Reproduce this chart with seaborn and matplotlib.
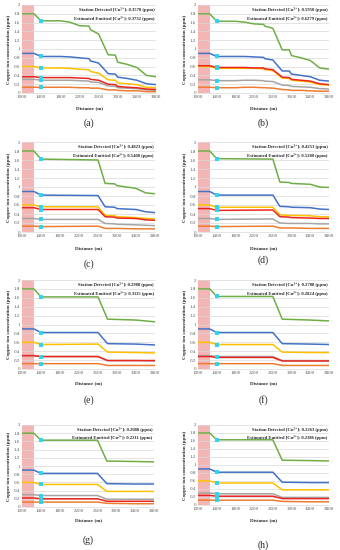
import pandas as pd
import matplotlib
matplotlib.use('Agg')
import matplotlib.pyplot as plt
import seaborn as sns

# series drawn in every panel (bottom of the list ends up on top)
series = ['green', 'blue', 'yellow', 'gray', 'red', 'orange']

# distance grids (m)
dist_ab = [1000, 1250, 1400, 1800, 2000, 2200, 2400, 2430, 2600, 2800, 2950, 3000, 3200, 3400, 3600, 3800]
dist_cd = [1000, 1250, 1400, 2600, 2750, 2950, 3000, 3400, 3600, 3800]
dist_eh = [1000, 1250, 1400, 2600, 2800, 3400, 3800]

# (a)
green_a = [1.8, 1.8, 1.64, 1.64, 1.61, 1.53, 1.52, 1.44, 1.34, 0.87, 0.86, 0.70, 0.65, 0.58, 0.40, 0.37]
blue_a = [0.9, 0.9, 0.83, 0.83, 0.82, 0.80, 0.78, 0.73, 0.68, 0.44, 0.43, 0.36, 0.33, 0.29, 0.21, 0.19]
yellow_a = [0.6, 0.6, 0.57, 0.57, 0.56, 0.54, 0.53, 0.49, 0.45, 0.30, 0.29, 0.23, 0.21, 0.19, 0.13, 0.12]
gray_a = [0.31, 0.31, 0.29, 0.29, 0.29, 0.28, 0.27, 0.25, 0.24, 0.16, 0.15, 0.12, 0.11, 0.10, 0.07, 0.06]
red_a = [0.37, 0.37, 0.35, 0.35, 0.35, 0.34, 0.33, 0.31, 0.29, 0.20, 0.19, 0.15, 0.13, 0.12, 0.09, 0.08]
orange_a = [0.13, 0.13, 0.13, 0.13, 0.13, 0.12, 0.12, 0.11, 0.11, 0.07, 0.07, 0.06, 0.05, 0.05, 0.03, 0.03]

# (b)
green_b = [1.8, 1.8, 1.63, 1.63, 1.61, 1.57, 1.56, 1.52, 1.47, 0.98, 0.98, 0.85, 0.80, 0.74, 0.57, 0.54]
blue_b = [0.9, 0.9, 0.83, 0.83, 0.83, 0.82, 0.81, 0.78, 0.75, 0.50, 0.50, 0.43, 0.40, 0.37, 0.29, 0.27]
yellow_b = [0.6, 0.6, 0.56, 0.56, 0.56, 0.56, 0.55, 0.53, 0.51, 0.34, 0.33, 0.29, 0.27, 0.25, 0.19, 0.18]
gray_b = [0.3, 0.3, 0.28, 0.28, 0.29, 0.29, 0.28, 0.27, 0.26, 0.18, 0.17, 0.15, 0.14, 0.13, 0.10, 0.09]
red_b = [0.62, 0.62, 0.58, 0.58, 0.58, 0.57, 0.57, 0.55, 0.53, 0.36, 0.35, 0.31, 0.29, 0.27, 0.21, 0.19]
orange_b = [0.13, 0.13, 0.12, 0.12, 0.13, 0.13, 0.12, 0.12, 0.11, 0.08, 0.07, 0.06, 0.06, 0.05, 0.04, 0.04]

# (c)
green_c = [1.8, 1.8, 1.62, 1.60, 1.08, 1.07, 1.03, 0.97, 0.87, 0.85]
blue_c = [0.9, 0.9, 0.82, 0.81, 0.56, 0.55, 0.52, 0.50, 0.45, 0.43]
yellow_c = [0.6, 0.6, 0.56, 0.56, 0.37, 0.36, 0.34, 0.32, 0.30, 0.29]
gray_c = [0.3, 0.3, 0.28, 0.28, 0.19, 0.18, 0.17, 0.16, 0.15, 0.14]
red_c = [0.54, 0.54, 0.50, 0.50, 0.34, 0.33, 0.31, 0.30, 0.27, 0.26]
orange_c = [0.13, 0.13, 0.12, 0.13, 0.08, 0.08, 0.08, 0.07, 0.07, 0.07]

# (d)
green_d = [1.8, 1.8, 1.63, 1.62, 1.11, 1.10, 1.08, 1.06, 1.00, 0.99]
blue_d = [0.9, 0.9, 0.82, 0.82, 0.57, 0.56, 0.55, 0.54, 0.51, 0.50]
yellow_d = [0.6, 0.6, 0.55, 0.55, 0.38, 0.37, 0.37, 0.36, 0.34, 0.34]
gray_d = [0.3, 0.3, 0.28, 0.29, 0.20, 0.19, 0.19, 0.19, 0.18, 0.18]
red_d = [0.52, 0.52, 0.48, 0.49, 0.34, 0.33, 0.32, 0.31, 0.30, 0.30]
orange_d = [0.13, 0.13, 0.12, 0.13, 0.09, 0.09, 0.09, 0.08, 0.08, 0.08]

# (e)
green_e = [1.8, 1.8, 1.62, 1.62, 1.12, 1.10, 1.06]
blue_e = [0.9, 0.9, 0.82, 0.82, 0.57, 0.56, 0.54]
yellow_e = [0.6, 0.6, 0.55, 0.56, 0.38, 0.37, 0.36]
gray_e = [0.3, 0.3, 0.28, 0.28, 0.19, 0.19, 0.18]
red_e = [0.3, 0.3, 0.28, 0.28, 0.19, 0.19, 0.19]
orange_e = [0.12, 0.12, 0.12, 0.12, 0.08, 0.08, 0.08]

# (f)
green_f = [1.8, 1.8, 1.63, 1.63, 1.12, 1.10, 1.08]
blue_f = [0.9, 0.9, 0.82, 0.82, 0.57, 0.56, 0.55]
yellow_f = [0.6, 0.6, 0.55, 0.55, 0.38, 0.37, 0.37]
gray_f = [0.3, 0.3, 0.28, 0.28, 0.19, 0.19, 0.19]
red_f = [0.28, 0.28, 0.26, 0.26, 0.18, 0.18, 0.18]
orange_f = [0.12, 0.12, 0.12, 0.12, 0.08, 0.08, 0.08]

# (g)
green_g = [1.8, 1.8, 1.63, 1.63, 1.12, 1.11, 1.10]
blue_g = [0.9, 0.9, 0.82, 0.82, 0.57, 0.56, 0.56]
yellow_g = [0.6, 0.6, 0.55, 0.55, 0.38, 0.38, 0.38]
gray_g = [0.3, 0.3, 0.28, 0.28, 0.19, 0.19, 0.19]
red_g = [0.22, 0.22, 0.20, 0.20, 0.14, 0.14, 0.14]
orange_g = [0.12, 0.12, 0.12, 0.12, 0.09, 0.08, 0.08]

# (h)
green_h = [1.8, 1.8, 1.63, 1.63, 1.12, 1.11, 1.10]
blue_h = [0.9, 0.9, 0.82, 0.82, 0.57, 0.56, 0.56]
yellow_h = [0.6, 0.6, 0.55, 0.55, 0.38, 0.38, 0.38]
gray_h = [0.3, 0.3, 0.28, 0.28, 0.19, 0.19, 0.19]
red_h = [0.24, 0.24, 0.22, 0.22, 0.16, 0.16, 0.16]
orange_h = [0.12, 0.12, 0.12, 0.12, 0.09, 0.08, 0.08]

detected = ['0.3578', '0.5950', '0.4823', '0.4253', '0.2988', '0.2788', '0.2088', '0.2263']
emitted = ['0.3732', '0.6279', '0.5400', '0.5280', '0.3115', '0.2824', '0.2211', '0.2386']
tags = ['(a)', '(b)', '(c)', '(d)', '(e)', '(f)', '(g)', '(h)']

xticks = list(range(1000, 3801, 400))
yticks = [0, 0.2, 0.4, 0.6, 0.8, 1, 1.2, 1.4, 1.6, 1.8, 2]
ytick_labels = ['0', '0.2', '0.4', '0.6', '0.8', '1', '1.2', '1.4', '1.6', '1.8', '2']

palette = {'green': '#70AD47', 'blue': '#4472C4', 'yellow': '#FFC000',
           'gray': '#A5A5A5', 'red': '#E8261E', 'orange': '#ED7D31'}
serif = ['Liberation Serif', 'DejaVu Serif']

panels = [
    (dist_ab, [green_a, blue_a, yellow_a, gray_a, red_a, orange_a]),
    (dist_ab, [green_b, blue_b, yellow_b, gray_b, red_b, orange_b]),
    (dist_cd, [green_c, blue_c, yellow_c, gray_c, red_c, orange_c]),
    (dist_cd, [green_d, blue_d, yellow_d, gray_d, red_d, orange_d]),
    (dist_eh, [green_e, blue_e, yellow_e, gray_e, red_e, orange_e]),
    (dist_eh, [green_f, blue_f, yellow_f, gray_f, red_f, orange_f]),
    (dist_eh, [green_g, blue_g, yellow_g, gray_g, red_g, orange_g]),
    (dist_eh, [green_h, blue_h, yellow_h, gray_h, red_h, orange_h]),
]

# pixel boxes: left, right, top, bottom; then tag y, xlabel y
boxes = [
    (22, 156, 5, 93, 123, 108),
    (198, 329, 5, 93, 123, 108),
    (22, 155, 142, 232, 264, 248),
    (198, 329, 142, 232, 260, 248),
    (22, 155, 280, 369, 400, 383),
    (198, 329, 280, 369, 400, 383),
    (22, 154, 425, 507, 540, 520),
    (198, 329, 425, 505, 545, 520),
]

sns.set_style('white')
W, H = 340, 550
fig = plt.figure(figsize=(3.4, 5.5), dpi=100)

for i, ((dist, lines), box) in enumerate(zip(panels, boxes)):
    l, r, t, b, tag_y, xl_y = box
    ax = fig.add_axes([l / W, 1 - b / H, (r - l) / W, (b - t) / H])

    df = pd.concat([pd.DataFrame({'dist': dist, 'conc': vals, 'series': name})
                    for name, vals in zip(series, lines)], ignore_index=True)

    ax.axvspan(1000, 1260, color='#F4B5B5', lw=0, zorder=0)
    sns.lineplot(data=df, x='dist', y='conc', hue='series', hue_order=series,
                 palette=palette, linewidth=1.1, legend=False, sort=False, ax=ax)
    marks = df[df['dist'] == 1400]
    sns.scatterplot(data=marks, x='dist', y='conc', marker='s', color='#33D3EE',
                    s=6, linewidth=0, ax=ax, zorder=5)

    ax.set_xlim(1000, 3800)
    ax.set_ylim(0, 2)
    ax.set_xticks(xticks)
    ax.set_xticklabels([str(v) for v in xticks], fontsize=3.6, family=serif, color='#595959')
    ax.set_yticks(yticks)
    ax.set_yticklabels(ytick_labels, fontsize=3.6, family=serif, color='#595959')
    ax.tick_params(length=0, pad=1.5)
    ax.grid(axis='y', color='#D9D9D9', linewidth=0.5)
    ax.set_axisbelow(True)
    for side in ['top', 'right', 'left']:
        ax.spines[side].set_visible(False)
    ax.spines['bottom'].set_color('#D9D9D9')
    ax.spines['bottom'].set_linewidth(0.5)

    ax.set_xlabel('')
    ax.set_ylabel('Copper ion concentration (ppm)', fontsize=3.6, fontweight='bold',
                  family=serif, labelpad=2)
    ax.text(0.99, 0.975, f'Station Detected [Cu²⁺]: {detected[i]} (ppm)', transform=ax.transAxes,
            ha='right', va='top', fontsize=3.3, fontweight='bold', family=serif)
    ax.text(0.99, 0.875, f'Estimated Emitted [Cu²⁺]: {emitted[i]} (ppm)', transform=ax.transAxes,
            ha='right', va='top', fontsize=3.3, fontweight='bold', family=serif)

    cx = (l + r) / 2 / W
    fig.text(cx, 1 - xl_y / H, 'Distance (m)', ha='center', va='center',
             fontsize=3.6, fontweight='bold', family=serif)
    fig.text(cx, 1 - tag_y / H, tags[i], ha='center', va='center', fontsize=7, family=serif)

fig.savefig('out.png', dpi=100, facecolor='white')
